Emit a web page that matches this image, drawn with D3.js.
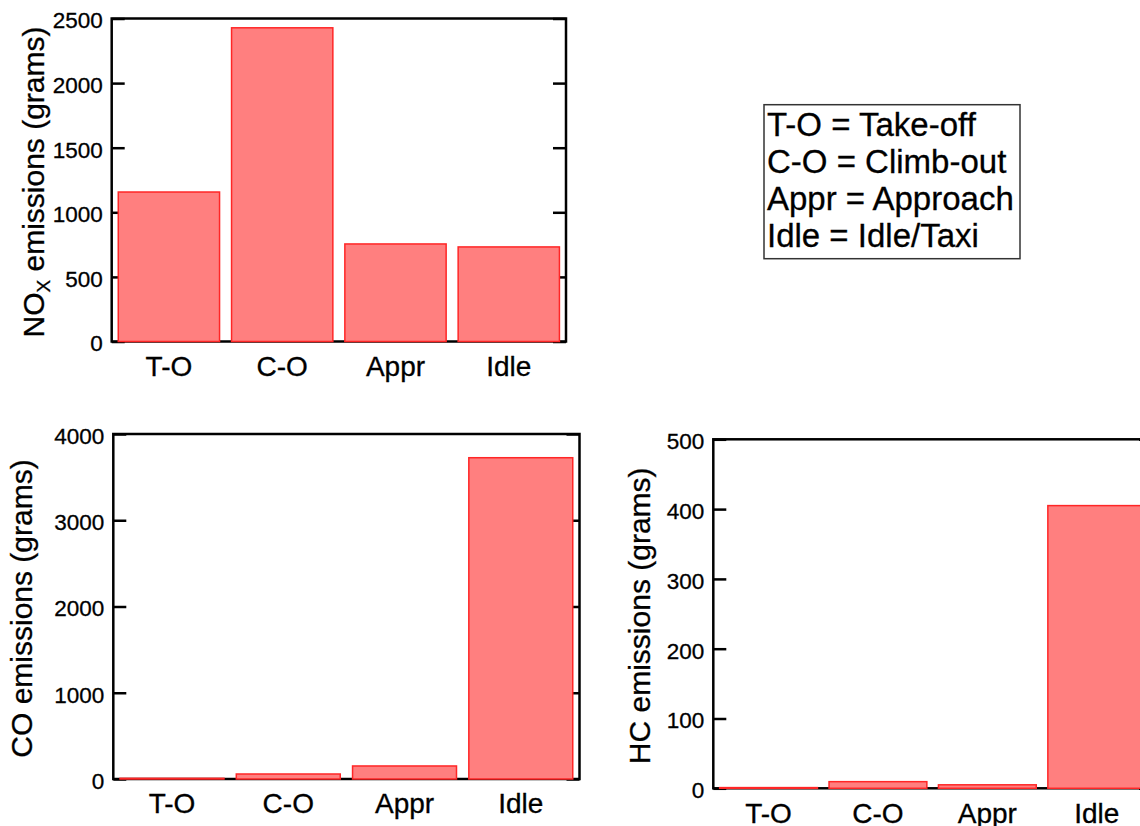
<!DOCTYPE html>
<html>
<head>
<meta charset="utf-8">
<script src="https://cdn.jsdelivr.net/npm/d3@7"></script>
<style>
  html, body { margin: 0; padding: 0; background: #fff; }
  svg { display: block; }
  svg text { font-family: "Liberation Sans", Arial, sans-serif; stroke: #000; stroke-width: 0.3px; }
</style>
</head>
<body>
<svg id="chart" width="1140" height="826"></svg>
<script>
// flight phases (x categories)
const phases = ['T-O', 'C-O', 'Appr', 'Idle']

// emissions per phase, grams
const noxGrams = [1157, 2428, 755, 732]
const coGrams = [8, 58, 151, 3725]
const hcGrams = [1, 9.5, 5, 405]

// y tick values
const noxTicks = [0, 500, 1000, 1500, 2000, 2500]
const coTicks = [0, 1000, 2000, 3000, 4000]
const hcTicks = [0, 100, 200, 300, 400, 500]

const legendLines = [
    'T-O = Take-off',
    'C-O = Climb-out',
    'Appr = Approach',
    'Idle = Idle/Taxi'
]

const FONT = '"Liberation Sans", Arial, sans-serif'
const svg = d3.select('#chart')

const panels = [
    { values: noxGrams, ticks: noxTicks, title: ['NO', 'X', ' emissions (grams)'],
      left: 111.7, right: 566, top: 18.5, bottom: 341.5, titleX: 43.5 },
    { values: coGrams, ticks: coTicks, title: ['CO emissions (grams)'],
      left: 113.3, right: 579.5, top: 434, bottom: 779, titleX: 32 },
    { values: hcGrams, ticks: hcTicks, title: ['HC emissions (grams)'],
      left: 713.3, right: 1152, top: 439.3, bottom: 788.3, titleX: 650 }
]

panels.forEach(p => drawPanel(p))
drawLegend()

function drawPanel (p) {
    const x = d3.scaleBand()
        .domain(phases)
        .range([p.left, p.right])
        .paddingInner(0.106)
        .paddingOuter(0.058)

    const y = d3.scaleLinear()
        .domain([0, d3.max(p.ticks)])
        .range([p.bottom, p.top])

    const g = svg.append('g')

    // left axis, ticks pointing in
    const left = g.append('g')
        .attr('transform', `translate(${p.left},0)`)
        .call(d3.axisLeft(y).tickValues(p.ticks).tickFormat(d3.format('d'))
            .tickSize(-13).tickSizeOuter(0).tickPadding(9))
        .attr('font-family', FONT)
        .attr('font-size', 22.5)
    left.select('.domain').remove()
    left.selectAll('line').attr('stroke', '#000').attr('stroke-width', 2.5)
    left.selectAll('text')
        .attr('fill', '#000')
        .attr('dy', '0.42em')

    // right axis, no labels
    const right = g.append('g')
        .attr('transform', `translate(${p.right},0)`)
        .call(d3.axisRight(y).tickValues(p.ticks).tickSize(-13).tickSizeOuter(0).tickFormat(''))
    right.select('.domain').remove()
    right.selectAll('line').attr('stroke', '#000').attr('stroke-width', 2.5)

    // category labels
    const bottom = g.append('g')
        .attr('transform', `translate(0,${p.bottom})`)
        .call(d3.axisBottom(x).tickSize(0).tickPadding(14.5))
        .attr('font-family', FONT)
        .attr('font-size', 28)
    bottom.select('.domain').remove()
    bottom.selectAll('text').attr('fill', '#000')

    // frame
    g.append('rect')
        .attr('x', p.left)
        .attr('y', p.top)
        .attr('width', p.right - p.left)
        .attr('height', p.bottom - p.top)
        .attr('fill', 'none')
        .attr('stroke', '#000')
        .attr('stroke-width', 2.5)

    // bars
    g.selectAll('rect.bar')
        .data(p.values)
        .join('rect')
        .attr('class', 'bar')
        .attr('x', (d, i) => x(phases[i]))
        .attr('width', x.bandwidth())
        .attr('y', d => y(d))
        .attr('height', d => Math.max(0.5, y(0) - y(d)))
        .attr('fill', '#ff7f7f')
        .attr('stroke', '#ff2626')
        .attr('stroke-width', 1.5)

    // y title
    const title = g.append('text')
        .attr('transform', `translate(${p.titleX},${(p.top + p.bottom) / 2 + 2}) rotate(-90)`)
        .attr('text-anchor', 'middle')
        .attr('font-family', FONT)
        .attr('font-size', 30)
        .attr('fill', '#000')
    if (p.title.length === 1) {
        title.text(p.title[0])
    } else {
        title.append('tspan').text(p.title[0])
        title.append('tspan').attr('font-size', 19).attr('dy', 6).text(p.title[1])
        title.append('tspan').attr('dy', -6).text(p.title[2])
    }
}

function drawLegend () {
    const lg = svg.append('g')

    lg.append('rect')
        .attr('x', 764)
        .attr('y', 104.7)
        .attr('width', 256)
        .attr('height', 154)
        .attr('fill', '#fff')
        .attr('stroke', '#333')
        .attr('stroke-width', 1.5)

    lg.selectAll('text')
        .data(legendLines)
        .join('text')
        .attr('x', 767)
        .attr('y', (d, i) => 136 + i * 37)
        .attr('font-family', FONT)
        .attr('font-size', 33)
        .attr('fill', '#000')
        .text(d => d)
}
</script>
</body>
</html>
